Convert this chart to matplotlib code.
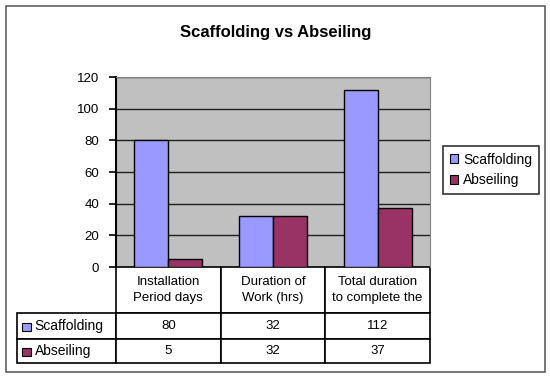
import matplotlib
matplotlib.use('Agg')
import matplotlib.pyplot as plt
import numpy as np
from matplotlib.patches import Rectangle

plt.rcParams['font.family'] = ['Liberation Sans', 'DejaVu Sans']

categories = ['Installation\nPeriod days', 'Duration of\nWork (hrs)', 'Total duration\nto complete the']
series_names = ['Scaffolding', 'Abseiling']
scaffolding = [80, 32, 112]
abseiling = [5, 32, 37]
colors = ['#9999FF', '#993366']
yticks = [0, 20, 40, 60, 80, 100, 120]

W, H = 550, 379
fig = plt.figure(figsize=(5.5, 3.79), dpi=100)

def px(x0, y0, x1, y1):
    # pixel box (top-left origin) -> figure fraction rect
    return [x0 / W, (H - y1) / H, (x1 - x0) / W, (y1 - y0) / H]

# outer border of the chart
fig.patches.append(Rectangle((6 / W, 1 - 372 / H), 539 / W, 366 / H,
                             transform=fig.transFigure, fill=False,
                             edgecolor='#606060', linewidth=1.2))

fig.text(276 / W, 1 - 32 / H, 'Scaffolding vs Abseiling', ha='center', va='center',
         fontsize=12, fontweight='bold')

ax = fig.add_axes(px(116, 77, 430, 267))
ax.set_facecolor('#C0C0C0')
x = np.arange(len(categories))
bw = 0.325
ax.bar(x - bw / 2, scaffolding, bw, color=colors[0], edgecolor='black', linewidth=1, zorder=3)
ax.bar(x + bw / 2, abseiling, bw, color=colors[1], edgecolor='black', linewidth=1, zorder=3)
ax.set_xlim(-0.5, len(categories) - 0.5)
ax.set_ylim(0, 120)
ax.set_yticks(yticks)
ax.set_xticks([])
ax.yaxis.grid(True, color='#202020', linewidth=1)
ax.set_axisbelow(True)
ax.tick_params(axis='y', length=5, width=1.2, labelsize=9.5, pad=7)
for s in ['top', 'right']:
    ax.spines[s].set_color('#808080')
ax.spines['left'].set_linewidth(1.5)
ax.spines['bottom'].set_visible(False)

# data table below the plot; first column holds the series names
lbl_px, col_px = 99, 314 / 3
cell_text = [[series_names[0]] + [str(v) for v in scaffolding],
             [series_names[1]] + [str(v) for v in abseiling]]
table = ax.table(cellText=cell_text, colLabels=[''] + categories,
                 colWidths=[lbl_px] + [col_px] * 3, cellLoc='center',
                 bbox=[(17 - 116) / 314, (267 - 363) / 190, 413 / 314, 96 / 190])
table.auto_set_font_size(False)
row_h = {0: 46, 1: 26, 2: 24}
for (r, c), cell in table.get_celld().items():
    cell.set_linewidth(1.2)
    cell.set_edgecolor('black')
    cell.set_fontsize(9.5)
    cell.set_height(row_h[r])
    if r == 0:
        cell.get_text().set_linespacing(1.5)
        if c == 0:
            cell.visible_edges = ''
    elif c == 0:
        cell.get_text().set_fontsize(10)
        cell.get_text().set_ha('left')
        cell._loc = 'left'
        cell.PAD = 0.18

# legend keys inside table row labels
for i, col in enumerate(colors):
    yc = 327 + i * 25
    fig.patches.append(Rectangle((22 / W, 1 - (yc + 4) / H), 9 / W, 8 / H,
                                 transform=fig.transFigure, facecolor=col,
                                 edgecolor='black', linewidth=0.8, zorder=5))

handles = [Rectangle((0, 0), 1, 1, facecolor=c, edgecolor='black', linewidth=0.8) for c in colors]
leg = fig.legend(handles, series_names, loc='center', bbox_to_anchor=(491 / W, 1 - 170 / H),
                 frameon=True, fancybox=False, fontsize=10, handlelength=0.6, handleheight=0.6,
                 handletextpad=0.4, borderpad=0.45, labelspacing=0.5, borderaxespad=0)
leg.get_frame().set_edgecolor('black')
leg.get_frame().set_linewidth(1.2)

fig.savefig('out.png', dpi=100)
